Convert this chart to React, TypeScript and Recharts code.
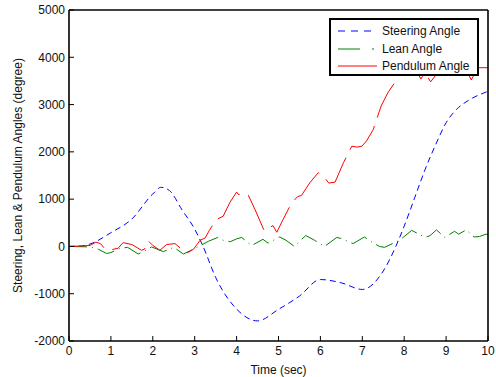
import { LineChart, Line, XAxis, YAxis, Legend } from "recharts";

// ─── Data ─────────────────────────────────────────────────────────────────────

const xTicks = [0, 1, 2, 3, 4, 5, 6, 7, 8, 9, 10];
const yTicks = [-2000, -1000, 0, 1000, 2000, 3000, 4000, 5000];

const steerT = [0, 0.3, 0.5, 1, 1.5, 2, 2.2, 2.4, 2.7, 3, 3.2, 3.5, 4, 4.5, 5, 5.5, 6, 6.5, 7, 7.5, 7.8, 8, 8.25, 8.5, 8.75, 9, 9.25, 9.5, 10];
const steerV = [0, 10, 50, 290, 580, 1110, 1250, 1180, 770, 365, 0, -655, -1325, -1575, -1330, -1050, -700, -770, -910, -520, 0, 430, 1030, 1630, 2150, 2615, 2900, 3070, 3280];

const leanT = [0, 0.5, 0.7, 0.9, 1.0, 1.22, 1.4, 1.65, 1.8, 1.97, 2.25, 2.5, 2.73, 2.97, 3.33, 3.55, 3.68, 3.85, 4.0, 4.12, 4.36, 4.63, 4.75, 5.03, 5.18, 5.38, 5.65, 5.86, 6.1, 6.39, 6.49, 6.78, 7.05, 7.25, 7.41, 7.53, 7.89, 8.18, 8.35, 8.5, 8.62, 8.77, 8.97, 9.2, 9.3, 9.48, 9.67, 9.8, 9.95, 10];
const leanV = [0, -10, -60, -150, -130, -40, -20, -160, -100, -10, -110, -20, -160, -60, 110, 190, 130, 100, 160, 190, 20, 150, 70, 200, 130, 0, 230, 130, 0, 190, 170, 60, 200, 80, 0, -20, 130, 340, 260, 190, 230, 350, 190, 320, 260, 350, 200, 210, 260, 250];

const pendT = [0, 0.3, 0.5, 0.64, 0.75, 0.86, 1.0, 1.17, 1.29, 1.5, 1.73, 1.8, 1.89, 2.0, 2.17, 2.33, 2.53, 2.69, 2.81, 2.97, 3.13, 3.25, 3.35, 3.45, 3.52, 3.68, 3.84, 4.0, 4.04, 4.15, 4.27, 4.44, 4.66, 4.75, 4.87, 4.96, 5.11, 5.3, 5.45, 5.55, 5.75, 5.95, 6.07, 6.2, 6.35, 6.55, 6.75, 6.87, 6.99, 7.1, 7.26, 7.45, 7.61, 7.77, 7.89, 8.1, 8.3, 8.4, 8.47, 8.55, 8.63, 8.75, 9.0, 9.3, 9.5, 9.6, 9.65, 9.75, 10];
const pendV = [0, 10, 20, 90, 60, -55, -70, -40, 80, 40, -80, -60, 120, 20, -80, 40, 60, -60, -140, -60, 130, 180, 340, 480, 570, 640, 930, 1150, 1100, 1110, 1100, 780, 330, 380, 440, 300, 570, 900, 1050, 1080, 1350, 1560, 1490, 1340, 1360, 1770, 2120, 2100, 2120, 2230, 2470, 2970, 3250, 3460, 3640, 3850, 3700, 3540, 3650, 3600, 3480, 3620, 3800, 3800, 3700, 3520, 3600, 3780, 3780];

const rows = (ts: number[], vs: number[]) => ts.map((t, i) => ({ t, v: vs[i] }));

const series = [
  { name: "Steering Angle", color: "#0000ff", dash: "6 4", sample: "7 6", curve: "monotone", data: rows(steerT, steerV) },
  { name: "Lean Angle", color: "#008000", dash: "18 5 1 5", sample: "22 12 2 40", curve: "linear", data: rows(leanT, leanV) },
  { name: "Pendulum Angle", color: "#ff0000", dash: "38 9", sample: undefined, curve: "linear", data: rows(pendT, pendV) },
] as const;

const FONT = "'Liberation Sans', Arial, Helvetica, sans-serif";
const rowCenters = [10.5, 29, 45.5];

// ─── Legend ───────────────────────────────────────────────────────────────────

function BoxLegend() {
  return (
    <div
      style={{
        position: "relative",
        width: 150,
        height: 58,
        boxSizing: "border-box",
        border: "2px solid #000",
        background: "#fff",
        fontFamily: FONT,
        fontSize: 12,
        color: "#111",
      }}
    >
      {series.map((s, i) => (
        <div key={s.name} style={{ position: "absolute", left: 7, top: rowCenters[i] - 8, height: 16, display: "flex", alignItems: "center" }}>
          <svg width={40} height={16} style={{ display: "block" }}>
            <line x1={0} y1={8} x2={39} y2={8} stroke={s.color} strokeWidth={1} strokeDasharray={s.sample} />
          </svg>
          <span style={{ marginLeft: 4, whiteSpace: "nowrap" }}>{s.name}</span>
        </div>
      ))}
    </div>
  );
}

// ─── Chart ────────────────────────────────────────────────────────────────────

export default function App() {
  const axisLine = { stroke: "#000", strokeWidth: 1.6 };
  const tickLine = { stroke: "#000", strokeWidth: 1 };
  const tick = { fill: "#111", fontSize: 12, fontFamily: FONT };

  return (
    <div style={{ position: "absolute", left: 0, top: 0, width: 496, height: 377, background: "#fff" }}>
      <LineChart width={496} height={377} margin={{ top: 9, right: 7, bottom: 0, left: 0 }}>
        <XAxis
          xAxisId="b"
          dataKey="t"
          type="number"
          domain={[0, 10]}
          ticks={xTicks}
          allowDataOverflow
          height={36}
          tickSize={-5}
          tickMargin={10}
          axisLine={axisLine}
          tickLine={tickLine}
          tick={tick}
          label={{ value: "Time (sec)", position: "insideBottom", offset: 3, fill: "#111", fontSize: 12, fontFamily: FONT }}
        />
        <XAxis
          xAxisId="top"
          orientation="top"
          type="number"
          domain={[0, 10]}
          ticks={xTicks}
          allowDataOverflow
          height={1}
          tickSize={-5}
          axisLine={axisLine}
          tickLine={tickLine}
          tick={false}
        />
        <YAxis
          yAxisId="l"
          type="number"
          domain={[-2000, 5000]}
          ticks={yTicks}
          allowDataOverflow
          width={69}
          tickSize={-5}
          tickMargin={9}
          axisLine={axisLine}
          tickLine={tickLine}
          tick={tick}
          label={{
            value: "Steering, Lean & Pendulum Angles (degree)",
            angle: -90,
            position: "insideLeft",
            offset: 18,
            fill: "#111",
            fontSize: 12,
            fontFamily: FONT,
            style: { textAnchor: "middle" },
          }}
        />
        <YAxis
          yAxisId="r"
          orientation="right"
          type="number"
          domain={[-2000, 5000]}
          ticks={yTicks}
          allowDataOverflow
          width={1}
          tickSize={-5}
          axisLine={axisLine}
          tickLine={tickLine}
          tick={false}
        />
        <Legend
          layout="vertical"
          align="center"
          verticalAlign="middle"
          wrapperStyle={{ left: 329, top: 18, width: 150, height: 58 }}
          content={() => <BoxLegend />}
        />
        {series.map((s) => (
          <Line
            key={s.name}
            xAxisId="b"
            yAxisId="l"
            data={s.data}
            dataKey="v"
            name={s.name}
            type={s.curve}
            stroke={s.color}
            strokeWidth={1}
            strokeDasharray={s.dash}
            dot={false}
            activeDot={false}
            isAnimationActive={false}
          />
        ))}
      </LineChart>
    </div>
  );
}
